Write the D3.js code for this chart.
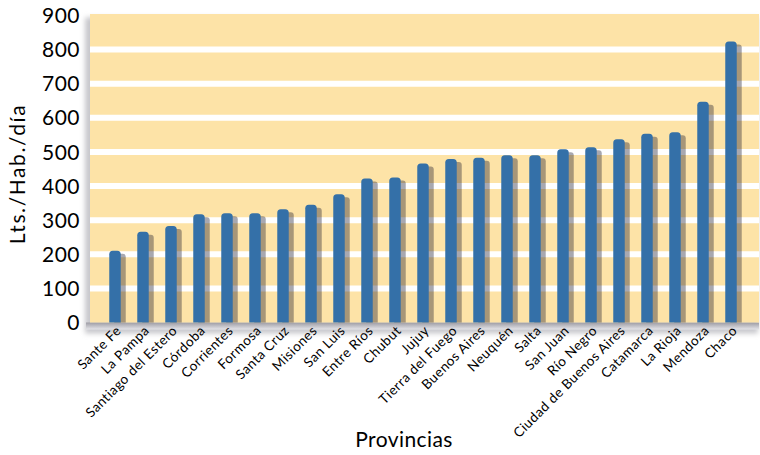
<!DOCTYPE html>
<html>
<head>
<meta charset="utf-8">
<script src="https://cdn.jsdelivr.net/npm/d3@7"></script>
<style>
  body { margin: 0; background: #fff; }
  svg { display: block; font-family: Lato, "Open Sans", sans-serif; }
</style>
</head>
<body>
<svg id="chart" width="760" height="455"></svg>
<script>
// provincias, ordered as in the chart
const provincias = ["Sante Fe", "La Pampa", "Santiago del Estero", "Córdoba", "Corrientes",
  "Formosa", "Santa Cruz", "Misiones", "San Luis", "Entre Ríos", "Chubut", "Jujuy",
  "Tierra del Fuego", "Buenos Aires", "Neuquén", "Salta", "San Juan", "Río Negro",
  "Ciudad de Buenos Aires", "Catamarca", "La Rioja", "Mendoza", "Chaco"];
// litros por habitante por dia
const consumo = [210, 266, 283, 317, 320, 320, 332, 345, 376, 422, 425, 466,
  479, 483, 490, 490, 508, 514, 537, 553, 558, 647, 824];
const yTicks = [0, 100, 200, 300, 400, 500, 600, 700, 800, 900];

const svg = d3.select("#chart");
const plot = { left: 90, right: 759, top: 15.5, bottom: 322.5 };

const y = d3.scaleLinear().domain([0, 900]).range([plot.bottom, plot.top]);
const x = d3.scaleBand().domain(provincias).range([101, 745])
    .paddingInner(0.59).paddingOuter(0.295);

const defs = svg.append("defs");
defs.append("filter").attr("id", "blur")
    .attr("x", "-10%").attr("y", "-10%").attr("width", "120%").attr("height", "120%")
  .append("feGaussianBlur").attr("stdDeviation", 2.5);
const floorGrad = defs.append("linearGradient").attr("id", "floor")
    .attr("x1", 0).attr("y1", 0).attr("x2", 0).attr("y2", 1);
floorGrad.append("stop").attr("offset", "0%").attr("stop-color", "#9d9ca4");
floorGrad.append("stop").attr("offset", "100%").attr("stop-color", "#e4e4e8");

// soft wall/floor shadow
svg.append("rect")
    .attr("x", plot.left - 5).attr("y", plot.top + 2)
    .attr("width", plot.right - plot.left + 4).attr("height", plot.bottom - plot.top + 9)
    .attr("fill", "#c8c8cc").attr("filter", "url(#blur)");
svg.append("rect")
    .attr("x", plot.left - 4).attr("y", plot.bottom)
    .attr("width", plot.right - plot.left + 4).attr("height", 7)
    .attr("fill", "url(#floor)");

// background band
svg.append("rect")
    .attr("x", plot.left).attr("y", y(900) - 1.5)
    .attr("width", plot.right - plot.left).attr("height", plot.bottom - y(900) + 1.5)
    .attr("fill", "#fde3a7");

// gridlines
svg.append("g").selectAll("line")
  .data(yTicks.filter(d => d > 0 && d < 900))
  .join("line")
    .attr("x1", plot.left).attr("x2", plot.right)
    .attr("y1", d => y(d)).attr("y2", d => y(d))
    .attr("stroke", "#fff").attr("stroke-width", 6);

function barPath(x0, w, top, bottom, r) {
  return `M${x0},${bottom}V${top + r}Q${x0},${top} ${x0 + r},${top}H${x0 + w - r}` +
    `Q${x0 + w},${top} ${x0 + w},${top + r}V${bottom}Z`;
}

const bw = x.bandwidth();
const data = provincias.map((p, i) => ({ p, v: consumo[i] }));

// bar shadows
svg.append("g").selectAll("path")
  .data(data)
  .join("path")
    .attr("d", d => barPath(x(d.p) + 5, bw, y(d.v) + 3, plot.bottom, 3))
    .attr("fill", "#14142a").attr("fill-opacity", 0.37);

// bars
svg.append("g").selectAll("path")
  .data(data)
  .join("path")
    .attr("d", d => barPath(x(d.p), bw, y(d.v), plot.bottom, 3.5))
    .attr("fill", "#3470a8");

// y axis labels
svg.append("g").selectAll("text")
  .data(yTicks)
  .join("text")
    .attr("x", 80).attr("y", d => y(d))
    .attr("dy", "0.36em")
    .attr("text-anchor", "end")
    .attr("font-size", 21)
    .attr("letter-spacing", 0.5)
    .attr("fill", "#000")
    .text(d => d);

// x axis labels
svg.append("g").selectAll("text")
  .data(provincias)
  .join("text")
    .attr("transform", d => `translate(${x(d) + bw / 2 + 7},${plot.bottom + 9}) rotate(-45)`)
    .attr("text-anchor", "end")
    .attr("font-size", 13.5)
    .attr("letter-spacing", 0.5)
    .attr("fill", "#000")
    .text(d => d);

// axis titles
svg.append("text")
    .attr("transform", `translate(25,174) rotate(-90)`)
    .attr("text-anchor", "middle")
    .attr("font-size", 21)
    .attr("letter-spacing", 1.6)
    .text("Lts./Hab./día");

svg.append("text")
    .attr("x", 404).attr("y", 447)
    .attr("text-anchor", "middle")
    .attr("font-size", 21)
    .attr("letter-spacing", 0.4)
    .text("Provincias");
</script>
</body>
</html>
